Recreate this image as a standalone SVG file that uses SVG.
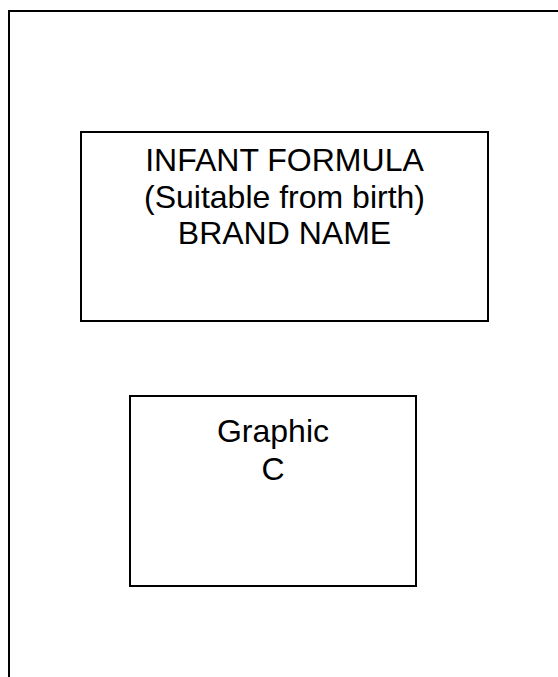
<svg xmlns="http://www.w3.org/2000/svg" width="558" height="677" viewBox="0 0 558 677">
<style>
.box{fill:#fff;stroke:#000;stroke-width:2}
.frame{fill:none;stroke:#000;stroke-width:2}
.t{font-family:"Liberation Sans",Arial,sans-serif;font-size:32px;fill:#000;text-anchor:middle}
</style>
<rect width="558" height="677" fill="#fff"/>
<g id="frame">
<path class="frame" d="M9,677 V11 H558"/>
</g>
<g id="node-infant-formula">
<rect class="box" x="81" y="132" width="407" height="189"/>
<text class="t" x="284.5" y="171">INFANT FORMULA</text>
<text class="t" x="284.5" y="207.5">(Suitable from birth)</text>
<text class="t" x="284.5" y="244">BRAND NAME</text>
</g>
<g id="node-graphic-c">
<rect class="box" x="130" y="396" width="286" height="190"/>
<text class="t" x="273" y="442">Graphic</text>
<text class="t" x="273" y="479.5">C</text>
</g>
<g id="connectors"></g>
</svg>
